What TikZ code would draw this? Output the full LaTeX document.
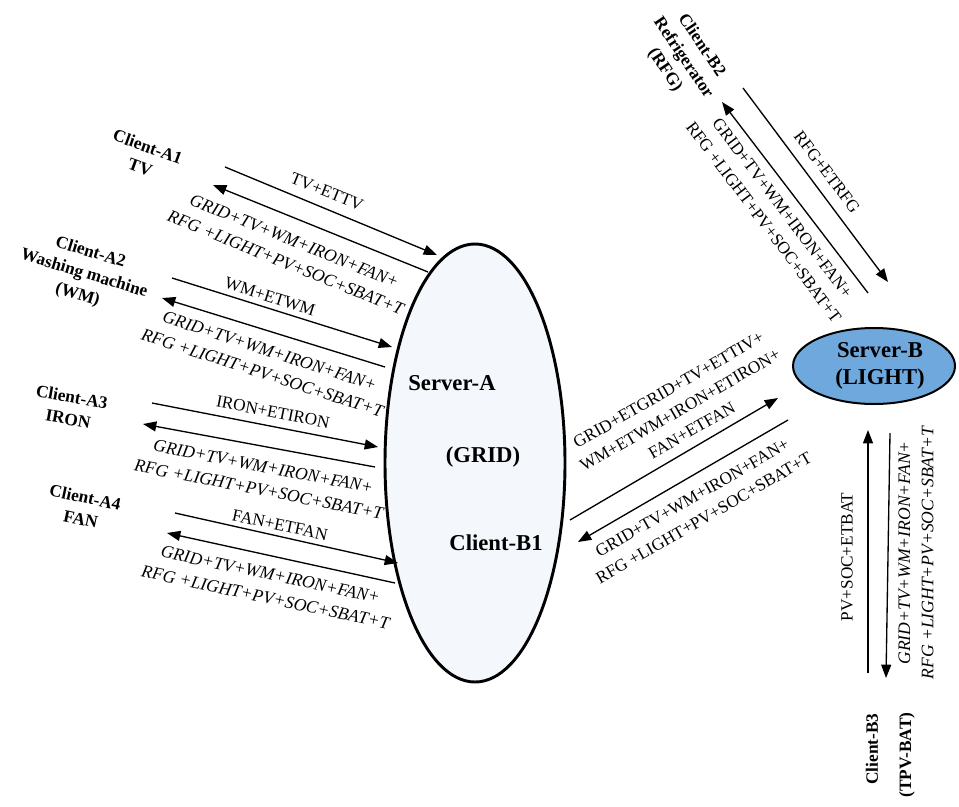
\documentclass[tikz,border=0pt]{standalone}
\usepackage{fontspec}
\setmainfont{Liberation Serif}
\usetikzlibrary{arrows.meta,shapes.geometric}
\begin{document}
\begin{tikzpicture}[x=0.75pt,y=-0.75pt,
  arr/.style={line width=1pt,-{Triangle[length=10pt,width=7.5pt]}},
  lbl/.style={font=\fontsize{12.9}{17.5}\selectfont,align=center,inner sep=0pt},
  itl/.style={font=\fontsize{13.2}{17.5}\selectfont\itshape,align=center,inner sep=0pt},
  cli/.style={font=\fontsize{13}{16.5}\selectfont\bfseries,align=center,inner sep=0pt},
  srv/.style={font=\fontsize{17}{20}\selectfont\bfseries,inner sep=0pt}]
\useasboundingbox (0,0) rectangle (959,806);

% servers
\node[draw,ellipse,line width=2.2pt,fill={rgb,255:red,244;green,248;blue,253},
  minimum width=135pt,minimum height=328.5pt] (serverA) at (475,463) {};
\node[draw,ellipse,line width=1.5pt,fill={rgb,255:red,111;green,168;blue,220},
  minimum width=121.5pt,minimum height=57pt] (serverB) at (874,366) {};

\node[srv] (sa1) at (452,383) {Server-A};
\node[srv] (sa2) at (483,457) {(GRID)};
\node[srv] (sa3) at (496,543) {Client-B1};
\node[font=\fontsize{17}{20.5}\selectfont\bfseries,align=center,inner sep=0pt] (sbt) at (880,366) {Server-B\\(LIGHT)};

% client labels
\node[cli,rotate=-20] (cA1) at (144,157) {Client-A1\\TV};
\node[cli,rotate=-17] (cA2) at (84,274) {Client-A2\\Washing machine\\(WM)};
\node[cli,rotate=-10] (cA3) at (70,408) {Client-A3\\IRON};
\node[cli,rotate=-12] (cA4) at (83,508) {Client-A4\\FAN};
\node[cli,rotate=-56] (cB2) at (683,58) {Client-B2\\Refrigerator\\(RFG)};
\node[cli,rotate=90] (cB3a) at (872,749) {Client-B3};
\node[cli,rotate=90] (cB3b) at (907,755) {(TPV-BAT)};

% endpoints
\coordinate (a1s) at (225,167); \coordinate (a1e) at (437,255);
\coordinate (a1rs) at (428,272); \coordinate (a1re) at (213,185);
\coordinate (a2s) at (172,278); \coordinate (a2e) at (392,347);
\coordinate (a2rs) at (385,367); \coordinate (a2re) at (162,298);
\coordinate (a3s) at (152,403); \coordinate (a3e) at (378,447);
\coordinate (a3rs) at (375,467); \coordinate (a3re) at (143,424);
\coordinate (a4s) at (175,513); \coordinate (a4e) at (398,563);
\coordinate (a4rs) at (395,583); \coordinate (a4re) at (167,533);
\coordinate (b1s) at (570,520); \coordinate (b1e) at (778,398);
\coordinate (b1rs) at (788,420); \coordinate (b1re) at (578,542);
\coordinate (b2s) at (743,88); \coordinate (b2e) at (888,282);
\coordinate (b2rs) at (868,293); \coordinate (b2re) at (722,102);
\coordinate (b3s) at (868,673); \coordinate (b3e) at (868,430);
\coordinate (b3rs) at (890,433); \coordinate (b3re) at (886,678);

% arrows
\draw[arr] (a1s) -- (a1e);
\draw[arr] (a1rs) -- (a1re);
\draw[arr] (a2s) -- (a2e);
\draw[arr] (a2rs) -- (a2re);
\draw[arr] (a3s) -- (a3e);
\draw[arr] (a3rs) -- (a3re);
\draw[arr] (a4s) -- (a4e);
\draw[arr] (a4rs) -- (a4re);
\draw[arr] (b1s) -- (b1e);
\draw[arr] (b1rs) -- (b1re);
\draw[arr] (b2s) -- (b2e);
\draw[arr] (b2rs) -- (b2re);
\draw[arr] (b3s) -- (b3e);
\draw[arr] (b3rs) -- (b3re);

% arrow labels
\node[lbl,rotate=-22] (t1) at (327,192) {TV+ETTV};
\node[itl,rotate=-22] (t1r) at (290,252) {GRID+TV+WM+IRON+FAN+\\RFG +LIGHT+PV+SOC+SBAT+T};
\node[lbl,rotate=-18] (t2) at (270,297) {WM+ETWM};
\node[itl,rotate=-18] (t2r) at (266,362) {GRID+TV+WM+IRON+FAN+\\RFG +LIGHT+PV+SOC+SBAT+T};
\node[lbl,rotate=-11] (t3) at (273,412) {IRON+ETIRON};
\node[itl,rotate=-11] (t3r) at (261,478) {GRID+TV+WM+IRON+FAN+\\RFG +LIGHT+PV+SOC+SBAT+T};
\node[lbl,rotate=-12] (t4) at (280,525) {FAN+ETFAN};
\node[itl,rotate=-12] (t4r) at (268,586) {GRID+TV+WM+IRON+FAN+\\RFG +LIGHT+PV+SOC+SBAT+T};
\node[lbl,rotate=30] (tb1) at (680,410) {GRID+ETGRID+TV+ETTIV+\\WM+ETWM+IRON+ETIRON+\\FAN+ETFAN};
\node[lbl,rotate=30] (tb1r) at (698,508) {GRID+TV+WM+IRON+FAN+\\RFG +LIGHT+PV+SOC+SBAT+T};
\node[lbl,rotate=-53] (tb2) at (827,172) {RFG+ETRFG};
\node[lbl,rotate=-53] (tb2r) at (773,215) {GRID+TV+WM+IRON+FAN+\\RFG +LIGHT+PV+SOC+SBAT+T};
\node[lbl,rotate=90] (tb3) at (847,557) {PV+SOC+ETBAT};
\node[itl,rotate=90] (tb3r) at (916,553) {GRID+TV+WM+IRON+FAN+\\RFG +LIGHT+PV+SOC+SBAT+T};
\end{tikzpicture}
\end{document}
